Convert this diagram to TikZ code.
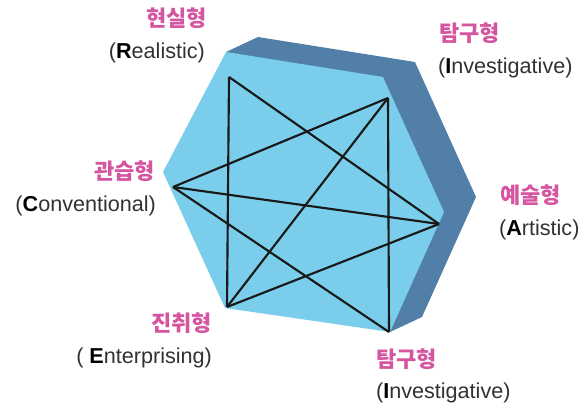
\documentclass[tikz,border=0pt]{standalone}
\usepackage{fontspec}
\usetikzlibrary{calc}
\setmainfont{Liberation Sans}
\newfontfamily\kor{Noto Sans CJK KR}
\definecolor{hexfront}{RGB}{122,206,236}
\definecolor{hexside}{RGB}{82,127,168}
\definecolor{typepink}{RGB}{213,85,160}
\definecolor{typegray}{RGB}{50,50,50}
\newcommand{\keyletter}[1]{{\color{black}\bfseries #1}}
\tikzset{
  kname/.style={font=\kor\bfseries\fontsize{22}{22}\selectfont, text=typepink, inner sep=0},
  ename/.style={font=\fontsize{21.6}{22}\selectfont, text=typegray, inner sep=0},
}

\begin{document}
\begin{tikzpicture}[x=1pt,y=-1pt,line width=.75mm]
  \pgfmathsetmacro{\dx}{32}
  \pgfmathsetmacro{\dy}{-15}
  \useasboundingbox (0,0) rectangle (581,409);

  % front face of the hexagon
  \coordinate (F1) at (226,52);
  \coordinate (F2) at (383,77);
  \coordinate (F3) at (444,212);
  \coordinate (F4) at (390,332);
  \coordinate (F5) at (225,308);
  \coordinate (F6) at (163,172);

  % back face
  \coordinate (B1) at ($(F1)+(\dx,\dy)$);
  \coordinate (B2) at ($(F2)+(\dx,\dy)$);
  \coordinate (B3) at ($(F3)+(\dx,\dy)$);
  \coordinate (B4) at ($(F4)+(\dx,\dy)$);

  \fill[hexside] (F1) -- (B1) -- (B2) -- (B3) -- (B4) -- (F4) -- cycle;
  \fill[hexfront] (F1) -- (F2) -- (F3) -- (F4) -- (F5) -- (F6) -- cycle;

  % profile points
  \coordinate (R) at (229,77);
  \coordinate (I1) at (388,98);
  \coordinate (A) at (439,224);
  \coordinate (I2) at (389,332);
  \coordinate (E) at (227,307);
  \coordinate (C) at (173,187);

  \draw[black!90] (R) -- (E);
  \draw[black!90] (R) -- (A);
  \draw[black!90] (I1) -- (I2);
  \draw[black!90] (I1) -- (C);
  \draw[black!90] (I1) -- (E);
  \draw[black!90] (C) -- (A);
  \draw[black!90] (C) -- (I2);
  \draw[black!90] (E) -- (A);

  % labels
  \node[kname,anchor=base east] (kR) at (208,27) {현실형};
  \node[ename,anchor=base east] (eR) at (206,59) {(\keyletter{R}ealistic)};

  \node[kname,anchor=base west] (kI1) at (438,42) {탐구형};
  \node[ename,anchor=base west] (eI1) at (437,74) {(\keyletter{I}nvestigative)};

  \node[kname,anchor=base east] (kC) at (156,179) {관습형};
  \node[ename,anchor=base east] (eC) at (157,211) {(\keyletter{C}onventional)};

  \node[kname,anchor=base west] (kA) at (499,204) {예술형};
  \node[ename,anchor=base west] (eA) at (498,235) {(\keyletter{A}rtistic)};

  \node[kname,anchor=base east] (kE) at (213,331) {진취형};
  \node[ename,anchor=base east] (eE) at (213,363) {( \keyletter{E}nterprising)};

  \node[kname,anchor=base west] (kI2) at (375,367) {탐구형};
  \node[ename,anchor=base west] (eI2) at (375,398) {(\keyletter{I}nvestigative)};
\end{tikzpicture}
\end{document}
